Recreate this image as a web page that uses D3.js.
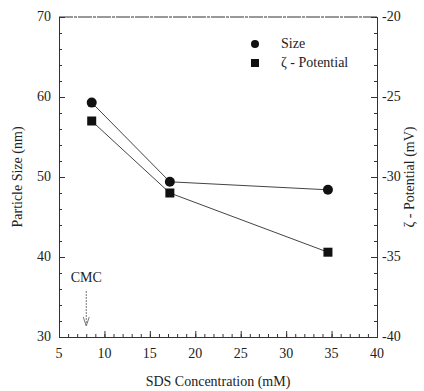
<!DOCTYPE html>
<html>
<head>
<meta charset="utf-8">
<script src="https://cdn.jsdelivr.net/npm/d3@7"></script>
<style>
  body { margin: 0; background: #fff; }
</style>
</head>
<body>
<div class="chart"></div>
<script>
// SDS concentration (mM)
var concentration = [8.6, 17.2, 34.6];
// particle size (nm), left axis
var sizeValues = [59.3, 49.4, 48.4];
// zeta potential (mV), right axis
var zetaValues = [-26.5, -31.0, -34.7];
var cmcValue = 8.0;

var xTicks = [5, 10, 15, 20, 25, 30, 35, 40];
var leftTicks = [30, 40, 50, 60, 70];
var rightTicks = [-40, -35, -30, -25, -20];

var width = 424, height = 391;
var margin = {top: 17, right: 47, bottom: 54, left: 59};
var serif = "'Liberation Serif', 'Times New Roman', 'DejaVu Serif', serif";

var svg = d3.select(".chart").append("svg")
    .attr("width", width)
    .attr("height", height)
    .attr("font-family", serif);

var x = d3.scaleLinear().domain([5, 40]).range([margin.left, width - margin.right]);
var yL = d3.scaleLinear().domain([30, 70]).range([height - margin.bottom, margin.top]);
var yR = d3.scaleLinear().domain([-40, -20]).range([height - margin.bottom, margin.top]);

var axisColor = "#333";

// top border
svg.append("line")
    .attr("x1", x(5)).attr("x2", x(40))
    .attr("y1", yL(70)).attr("y2", yL(70))
    .style("stroke", axisColor).style("stroke-dasharray", "14,1,3,1");

// axes, ticks pointing inward
var gx = svg.append("g").attr("transform", "translate(0," + yL(30) + ")");
gx.call(d3.axisTop(x).tickValues(d3.range(5, 41, 1)).tickSize(3).tickFormat(""));
gx.append("g").call(d3.axisTop(x).tickValues(xTicks).tickSize(6).tickFormat(""));

var gl = svg.append("g").attr("transform", "translate(" + x(5) + ",0)");
gl.call(d3.axisRight(yL).tickValues(d3.range(30, 71, 2)).tickSize(3).tickFormat(""));
gl.append("g").call(d3.axisRight(yL).tickValues(leftTicks).tickSize(6).tickFormat(""));

var gr = svg.append("g").attr("transform", "translate(" + x(40) + ",0)");
gr.call(d3.axisLeft(yR).tickValues(d3.range(-40, -19, 1)).tickSize(3).tickFormat(""));
gr.append("g").call(d3.axisLeft(yR).tickValues(rightTicks).tickSize(6).tickFormat(""));

svg.selectAll(".domain").style("stroke", axisColor);
svg.selectAll(".tick line").style("stroke", axisColor);

// tick labels
function label(sel) {
  return sel.style("font-family", serif).style("font-size", "14px").style("fill", "#222");
}

label(svg.selectAll(".xlab").data(xTicks).enter().append("text")
    .attr("x", function(d){ return x(d); })
    .attr("y", yL(30) + 21)
    .attr("text-anchor", "middle")
    .text(function(d){ return d; }));

label(svg.selectAll(".llab").data(leftTicks).enter().append("text")
    .attr("x", x(5) - 8)
    .attr("y", function(d){ return yL(d) + 4; })
    .attr("text-anchor", "end")
    .text(function(d){ return d; }));

label(svg.selectAll(".rlab").data(rightTicks).enter().append("text")
    .attr("x", x(40) + 5)
    .attr("y", function(d){ return yR(d) + 4; })
    .attr("text-anchor", "start")
    .text(function(d){ return d; }));

// axis titles
label(svg.append("text")
    .attr("x", (x(5) + x(40)) / 2)
    .attr("y", 386)
    .attr("text-anchor", "middle")
    .text("SDS Concentration (mM)"));

label(svg.append("text")
    .attr("transform", "translate(22," + ((yL(30) + yL(70)) / 2) + ") rotate(-90)")
    .attr("text-anchor", "middle")
    .text("Particle Size (nm)"));

label(svg.append("text")
    .attr("transform", "translate(414," + ((yL(30) + yL(70)) / 2) + ") rotate(-90)")
    .attr("text-anchor", "middle")
    .text("ζ - Potential (mV)"));

// lines
var sizeLine = d3.line()
    .x(function(d, i){ return x(concentration[i]); })
    .y(function(d){ return yL(d); });
var zetaLine = d3.line()
    .x(function(d, i){ return x(concentration[i]); })
    .y(function(d){ return yR(d); });

svg.append("path").attr("d", sizeLine(sizeValues))
    .style("fill", "none").style("stroke", "#444").style("stroke-width", 1);
svg.append("path").attr("d", zetaLine(zetaValues))
    .style("fill", "none").style("stroke", "#444").style("stroke-width", 1);

// markers
svg.selectAll(".sizept").data(sizeValues).enter().append("circle")
    .attr("cx", function(d, i){ return x(concentration[i]); })
    .attr("cy", function(d){ return yL(d); })
    .attr("r", 5)
    .style("fill", "#111");

svg.selectAll(".zetapt").data(zetaValues).enter().append("rect")
    .attr("x", function(d, i){ return x(concentration[i]) - 4.5; })
    .attr("y", function(d){ return yR(d) - 4.5; })
    .attr("width", 9).attr("height", 9)
    .style("fill", "#111");

// legend
svg.append("circle").attr("cx", 255).attr("cy", 44).attr("r", 4).style("fill", "#111");
label(svg.append("text").attr("x", 281).attr("y", 48).text("Size"));
svg.append("rect").attr("x", 251).attr("y", 59).attr("width", 8).attr("height", 8).style("fill", "#111");
label(svg.append("text").attr("x", 281).attr("y", 67).text("ζ - Potential"));

// CMC marker
label(svg.append("text")
    .attr("x", x(cmcValue))
    .attr("y", 282)
    .attr("text-anchor", "middle")
    .text("CMC"));
svg.append("line")
    .attr("x1", x(cmcValue)).attr("x2", x(cmcValue))
    .attr("y1", 291).attr("y2", 325)
    .style("stroke", "#777").style("stroke-dasharray", "2,1");
svg.append("path")
    .attr("d", "M" + (x(cmcValue) - 3) + ",317 L" + x(cmcValue) + ",326 L" + (x(cmcValue) + 3) + ",317")
    .style("fill", "none").style("stroke", "#777");
</script>
</body>
</html>
